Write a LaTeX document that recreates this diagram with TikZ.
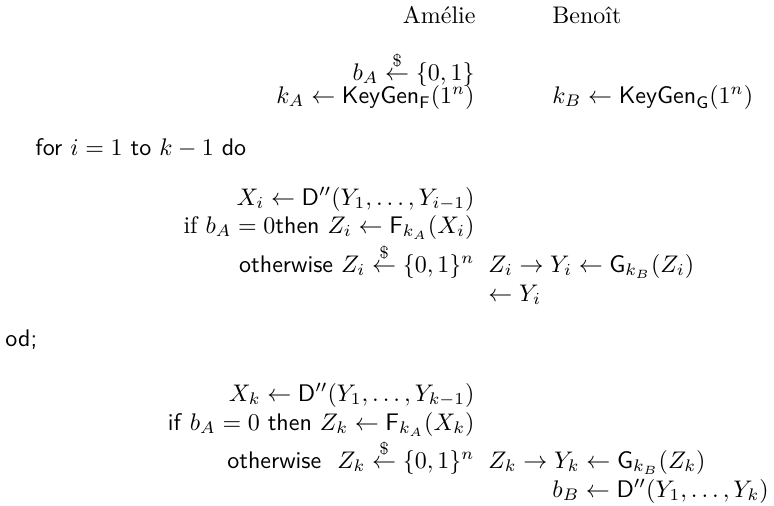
\documentclass[tikz,border=0pt]{standalone}
\usepackage{amsmath}
\usepackage{tikz}
\usetikzlibrary{positioning}

\newcommand{\sampleR}{\stackrel{\$}{\leftarrow}}
\newcommand{\keygen}{\mathsf{KeyGen}}
\newcommand{\dist}{\mathsf{D}''}

\tikzset{
    colA/.style={anchor=base east, inner sep=0pt},
    colM/.style={anchor=base west, inner sep=0pt},
    colB/.style={anchor=base west, inner sep=0pt}
}

\begin{document}
\begin{tikzpicture}[x=0.4167pt, y=-0.4167pt]

    \useasboundingbox (0,0) rectangle (774,505);

    % Parties
    \node[colA] (amelie) at (476,23) {Amélie};
    \node[colB] (benoit) at (552,23) {Benoît};

    % Key setup
    \node[colA] (bA) at (475,80) {$b_A \sampleR \{0,1\}$};
    \node[colA] (kA) at (475,103) {$k_A \leftarrow \keygen_{\mathsf{F}}(1^n)$};
    \node[colB] (kB) at (552,103) {$k_B \leftarrow \keygen_{\mathsf{G}}(1^n)$};

    % Loop
    \node[colM] (for) at (35,155) {\textsf{for} $i = 1$ \textsf{to} $k-1$ \textsf{do}};
    \node[colA] (Xi) at (475,205) {$X_i \leftarrow \dist(Y_1,\ldots,Y_{i-1})$};
    \node[colA] (ifi) at (475,233) {if $b_A = 0$\textsf{then} $Z_i \leftarrow \mathsf{F}_{k_A}(X_i)$};
    \node[colA] (owi) at (475,272) {\textsf{otherwise} $Z_i \sampleR \{0,1\}^n$};
    \node[colM] (Yi) at (488,272) {$Z_i \rightarrow Y_i \leftarrow \mathsf{G}_{k_B}(Z_i)$};
    \node[colM] (backi) at (488,301) {$\leftarrow Y_i$};
    \node[colM] (od) at (5,346) {\textsf{od;}};

    % Last round
    \node[colA] (Xk) at (475,401) {$X_k \leftarrow \dist(Y_1,\ldots,Y_{k-1})$};
    \node[colA] (ifk) at (475,430) {\textsf{if} $b_A = 0$ \textsf{then} $Z_k \leftarrow \mathsf{F}_{k_A}(X_k)$};
    \node[colA] (owk) at (475,468) {\textsf{otherwise}\ \ $Z_k \sampleR \{0,1\}^n$};
    \node[colM] (Yk) at (488,468) {$Z_k \rightarrow Y_k \leftarrow \mathsf{G}_{k_B}(Z_k)$};
    \node[colB] (bB) at (552,497) {$b_B \leftarrow \dist(Y_1,\ldots,Y_k)$};

\end{tikzpicture}
\end{document}
